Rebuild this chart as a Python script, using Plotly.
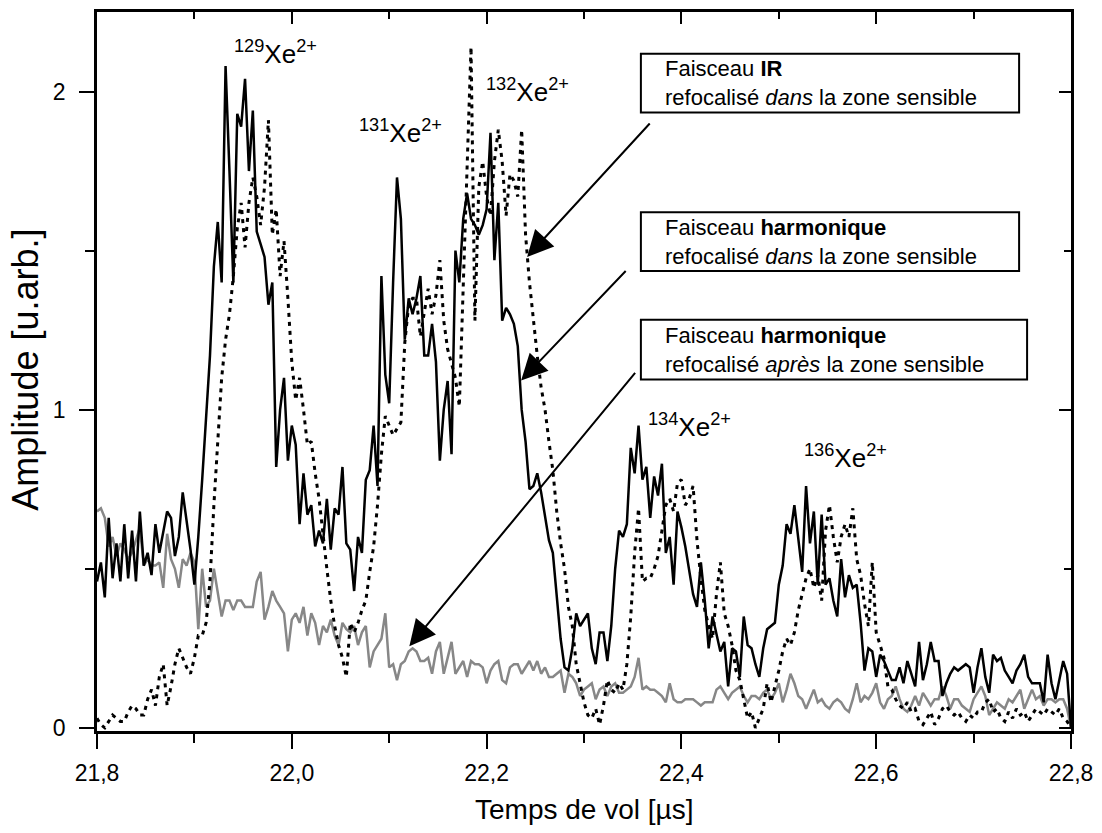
"""Time-of-flight spectrum of Xe2+ isotopes, three focusing conditions."""

import plotly.graph_objects as go

# sampling of the three traces (µs)
T_START = 21.8
T_STEP = 0.004

# Faisceau harmonique refocalisé dans la zone sensible (solid black)
harm_dans = [
    0.46, 0.52, 0.41, 0.66, 0.47, 0.58, 0.46, 0.64, 0.47, 0.62, 0.46, 0.68, 0.51, 0.55, 0.48, 0.64, 0.55, 0.62, 0.68, 0.66, 0.54, 0.60, 0.74, 0.65, 0.56,
    0.45, 0.60, 0.78, 0.98, 1.17, 1.45, 1.59, 1.40, 2.08, 1.75, 1.40, 1.93, 1.89, 2.04, 1.75, 1.94, 1.56, 1.52, 1.48, 1.33, 1.40, 0.82, 1.00, 1.10, 0.84,
    0.95, 0.89, 0.64, 0.80, 0.67, 0.70, 0.57, 0.62, 0.58, 0.72, 0.56, 0.69, 0.67, 0.82, 0.58, 0.56, 0.43, 0.60, 0.55, 0.78, 0.81, 0.95, 0.76, 1.42, 1.11,
    1.02, 1.40, 1.73, 1.60, 1.22, 1.35, 1.30, 1.35, 1.42, 1.17, 1.17, 1.27, 1.15, 0.84, 1.00, 1.09, 0.86, 1.50, 1.40, 1.60, 1.68, 1.60, 1.58, 1.55, 1.58,
    1.63, 1.87, 1.47, 1.65, 1.28, 1.32, 1.30, 1.27, 1.20, 1.00, 0.90, 0.75, 0.76, 0.80, 0.74, 0.66, 0.59, 0.55, 0.42, 0.28, 0.19, 0.18, 0.25, 0.36, 0.32,
    0.34, 0.36, 0.25, 0.20, 0.30, 0.30, 0.21, 0.32, 0.50, 0.62, 0.60, 0.64, 0.88, 0.80, 0.95, 0.78, 0.82, 0.66, 0.79, 0.73, 0.83, 0.55, 0.60, 0.45, 0.68,
    0.63, 0.57, 0.50, 0.42, 0.38, 0.52, 0.40, 0.25, 0.35, 0.30, 0.24, 0.27, 0.13, 0.25, 0.24, 0.16, 0.35, 0.26, 0.25, 0.20, 0.16, 0.25, 0.31, 0.32, 0.33,
    0.45, 0.51, 0.64, 0.61, 0.70, 0.60, 0.49, 0.76, 0.58, 0.68, 0.45, 0.67, 0.45, 0.47, 0.40, 0.35, 0.53, 0.41, 0.48, 0.44, 0.45, 0.33, 0.18, 0.25, 0.24,
    0.16, 0.23, 0.21, 0.18, 0.15, 0.15, 0.19, 0.14, 0.21, 0.17, 0.13, 0.27, 0.15, 0.20, 0.27, 0.21, 0.21, 0.10, 0.14, 0.17, 0.19, 0.18, 0.19, 0.20, 0.19,
    0.11, 0.19, 0.25, 0.16, 0.11, 0.23, 0.21, 0.22, 0.18, 0.16, 0.14, 0.18, 0.20, 0.23, 0.16, 0.14, 0.14, 0.14, 0.08, 0.23, 0.14, 0.09, 0.15, 0.21, 0.17,
    0.0,
]

# Faisceau IR refocalisé dans la zone sensible (dotted black)
ir_dans = [
    0.03, 0.01, 0.00, 0.02, 0.04, 0.03, 0.02, 0.02, 0.05, 0.07, 0.06, 0.04, 0.04, 0.09, 0.12, 0.07, 0.16, 0.20, 0.07, 0.13, 0.20, 0.25, 0.22, 0.19, 0.17,
    0.22, 0.29, 0.29, 0.33, 0.46, 0.70, 0.91, 1.10, 1.22, 1.30, 1.42, 1.57, 1.65, 1.51, 1.65, 1.73, 1.67, 1.58, 1.70, 1.91, 1.55, 1.63, 1.42, 1.53, 1.35,
    1.15, 1.03, 1.10, 1.00, 0.89, 0.90, 0.80, 0.72, 0.60, 0.50, 0.40, 0.32, 0.26, 0.22, 0.16, 0.33, 0.30, 0.33, 0.37, 0.40, 0.49, 0.57, 0.70, 0.86, 0.98,
    0.95, 0.92, 0.94, 0.96, 1.21, 1.33, 1.35, 1.35, 1.23, 1.30, 1.38, 1.30, 1.36, 1.47, 1.28, 1.19, 1.14, 1.10, 1.01, 1.40, 1.80, 2.14, 1.28, 1.70, 1.78,
    1.67, 1.61, 1.78, 1.88, 1.78, 1.61, 1.74, 1.72, 1.67, 1.88, 1.55, 1.40, 1.28, 1.17, 1.07, 1.00, 0.90, 0.81, 0.68, 0.58, 0.50, 0.38, 0.32, 0.20, 0.14,
    0.08, 0.04, 0.03, 0.06, 0.01, 0.07, 0.15, 0.12, 0.11, 0.14, 0.12, 0.20, 0.35, 0.55, 0.69, 0.46, 0.47, 0.47, 0.50, 0.54, 0.62, 0.70, 0.72, 0.68, 0.77,
    0.78, 0.70, 0.72, 0.76, 0.59, 0.47, 0.37, 0.32, 0.28, 0.42, 0.52, 0.36, 0.32, 0.26, 0.18, 0.15, 0.09, 0.03, 0.05, 0.00, 0.03, 0.06, 0.14, 0.08, 0.13,
    0.18, 0.24, 0.28, 0.26, 0.30, 0.37, 0.42, 0.47, 0.50, 0.44, 0.48, 0.40, 0.62, 0.70, 0.60, 0.52, 0.60, 0.64, 0.60, 0.69, 0.53, 0.48, 0.39, 0.32, 0.52,
    0.30, 0.26, 0.22, 0.13, 0.12, 0.09, 0.07, 0.06, 0.08, 0.05, 0.06, 0.02, 0.01, 0.03, 0.05, 0.01, 0.03, 0.06, 0.07, 0.05, 0.04, 0.05, 0.03, 0.02, 0.04,
    0.03, 0.05, 0.05, 0.08, 0.09, 0.05, 0.06, 0.03, 0.02, 0.05, 0.03, 0.06, 0.04, 0.05, 0.02, 0.04, 0.06, 0.05, 0.04, 0.06, 0.05, 0.04, 0.06, 0.03, 0.02,
    0.0,
]

# Faisceau harmonique refocalisé après la zone sensible (grey)
harm_apres = [
    0.68, 0.69, 0.66, 0.57, 0.60, 0.54, 0.58, 0.56, 0.53, 0.55, 0.59, 0.63, 0.51, 0.53, 0.51, 0.51, 0.52, 0.44, 0.61, 0.53, 0.50, 0.44, 0.53, 0.51, 0.55,
    0.52, 0.31, 0.50, 0.38, 0.40, 0.50, 0.42, 0.35, 0.40, 0.40, 0.37, 0.40, 0.40, 0.38, 0.38, 0.38, 0.46, 0.49, 0.34, 0.38, 0.43, 0.40, 0.38, 0.36, 0.24,
    0.34, 0.36, 0.33, 0.38, 0.29, 0.36, 0.33, 0.26, 0.32, 0.30, 0.34, 0.29, 0.26, 0.33, 0.31, 0.30, 0.32, 0.26, 0.30, 0.32, 0.19, 0.24, 0.26, 0.28, 0.36,
    0.19, 0.20, 0.15, 0.20, 0.21, 0.24, 0.25, 0.24, 0.21, 0.21, 0.22, 0.17, 0.24, 0.27, 0.17, 0.22, 0.27, 0.17, 0.19, 0.21, 0.16, 0.21, 0.20, 0.20, 0.19,
    0.14, 0.18, 0.20, 0.21, 0.15, 0.14, 0.19, 0.20, 0.20, 0.17, 0.19, 0.21, 0.18, 0.21, 0.17, 0.19, 0.16, 0.16, 0.17, 0.18, 0.11, 0.17, 0.16, 0.14, 0.10,
    0.12, 0.13, 0.14, 0.09, 0.12, 0.13, 0.10, 0.13, 0.14, 0.11, 0.11, 0.12, 0.13, 0.16, 0.22, 0.12, 0.13, 0.12, 0.12, 0.11, 0.10, 0.08, 0.14, 0.09, 0.08,
    0.08, 0.09, 0.09, 0.09, 0.08, 0.07, 0.08, 0.08, 0.08, 0.12, 0.13, 0.11, 0.09, 0.11, 0.12, 0.13, 0.10, 0.08, 0.10, 0.10, 0.09, 0.11, 0.12, 0.09, 0.11,
    0.14, 0.08, 0.12, 0.17, 0.14, 0.10, 0.09, 0.06, 0.09, 0.12, 0.08, 0.09, 0.07, 0.06, 0.08, 0.09, 0.08, 0.06, 0.05, 0.09, 0.14, 0.08, 0.10, 0.09, 0.11,
    0.14, 0.08, 0.06, 0.09, 0.10, 0.13, 0.09, 0.06, 0.05, 0.07, 0.10, 0.07, 0.11, 0.09, 0.07, 0.09, 0.09, 0.13, 0.10, 0.06, 0.09, 0.09, 0.07, 0.06, 0.05,
    0.09, 0.11, 0.13, 0.10, 0.04, 0.06, 0.08, 0.07, 0.06, 0.09, 0.08, 0.10, 0.12, 0.06, 0.09, 0.12, 0.09, 0.10, 0.07, 0.09, 0.09, 0.08, 0.09, 0.09, 0.06,
    0.0,
]

time_us = [round(T_START + T_STEP * i, 3) for i in range(len(harm_dans))]

# isotope labels: (mass, x px, y px) of the label centre
ISOTOPES = [("129", 276, 50), ("131", 401, 129), ("132", 528, 88),
            ("134", 691, 424), ("136", 847, 455)]

FONT = "Liberation Sans, Arial, sans-serif"

# plot area in page pixels
W, H = 1102, 833
L, R, T, B = 97, 1073, 9, 731


def px_x(px):
    return (px - L) / (R - L)


def px_y(py):
    return (B - py) / (B - T)


fig = go.Figure()
fig.add_trace(go.Scatter(x=time_us, y=harm_apres, mode="lines",
                         line=dict(color="#878787", width=2.5), name="harmonique après"))
fig.add_trace(go.Scatter(x=time_us, y=ir_dans, mode="lines",
                         line=dict(color="black", width=3, dash="4px,5px"), name="IR dans"))
fig.add_trace(go.Scatter(x=time_us, y=harm_dans, mode="lines", xaxis="x2", yaxis="y2",
                         line=dict(color="black", width=2.5), name="harmonique dans"))

xr = [21.8, 22.8]
yr = [-0.01, 2.25]
tickfont = dict(family=FONT, size=23, color="black")

fig.update_layout(
    width=W, height=H,
    margin=dict(l=L, r=W - R, t=T, b=H - B),
    paper_bgcolor="white", plot_bgcolor="white",
    showlegend=False,
    separators=", ",
    font=dict(family=FONT, color="black"),
    xaxis=dict(range=xr, tick0=21.8, dtick=0.2, tickformat=".1f",
               ticks="outside", ticklen=15, tickwidth=2, tickcolor="black",
               minor=dict(ticks="outside", ticklen=9, tickwidth=2, dtick=0.1, tick0=21.8, tickcolor="black"),
               showline=True, linewidth=2.5, linecolor="black", mirror=True,
               showgrid=False, zeroline=False, tickfont=tickfont, ticklabelstandoff=5),
    yaxis=dict(range=yr, tick0=0, dtick=1, tickformat="d",
               ticks="outside", ticklen=15, tickwidth=2, tickcolor="black",
               minor=dict(ticks="outside", ticklen=9, tickwidth=2, dtick=0.5, tick0=0, tickcolor="black"),
               showline=True, linewidth=2.5, linecolor="black", mirror=True,
               showgrid=False, zeroline=False, tickfont=tickfont, ticklabelstandoff=9),
    xaxis2=dict(range=xr, overlaying="x", side="top", matches="x",
                tick0=21.8, dtick=0.2, ticks="inside", ticklen=12, tickwidth=2, tickcolor="black",
                minor=dict(ticks="inside", ticklen=7, tickwidth=2, dtick=0.1, tick0=21.8, tickcolor="black"),
                showticklabels=False, showgrid=False, zeroline=False, showline=False),
    yaxis2=dict(range=yr, overlaying="y", side="right", matches="y",
                tick0=0, dtick=1, ticks="inside", ticklen=12, tickwidth=2, tickcolor="black",
                minor=dict(ticks="inside", ticklen=7, tickwidth=2, dtick=0.5, tick0=0, tickcolor="black"),
                showticklabels=False, showgrid=False, zeroline=False, showline=False),
)

annotations = [
    dict(text="Temps de vol [µs]", x=0.5, y=px_y(810), xref="paper", yref="paper",
         showarrow=False, font=dict(size=28), xanchor="center", yanchor="middle"),
    dict(text="Amplitude [u.arb.]", x=px_x(25), y=px_y(368), xref="paper", yref="paper",
         showarrow=False, font=dict(size=36), textangle=-90, xanchor="center", yanchor="middle"),
]

for mass, cx, cy in ISOTOPES:
    annotations.append(dict(text=f"<sup>{mass}</sup>Xe<sup>2+</sup>", x=px_x(cx), y=px_y(cy),
                            xref="paper", yref="paper", showarrow=False,
                            font=dict(size=26), xanchor="center", yanchor="middle"))

# legend boxes: (text, box left, right, top, bottom)
boxes = [
    ("Faisceau <b>IR</b><br>refocalisé <i>dans</i> la zone sensible", 642, 1021, 51, 110),
    ("Faisceau <b>harmonique</b><br>refocalisé <i>dans</i> la zone sensible", 642, 1021, 210, 269),
    ("Faisceau <b>harmonique</b><br>refocalisé <i>après</i> la zone sensible", 642, 1029, 318, 378),
]
shapes = []
for text, x0, x1, y0, y1 in boxes:
    shapes.append(dict(type="rect", xref="paper", yref="paper",
                       x0=px_x(x0), x1=px_x(x1), y0=px_y(y1), y1=px_y(y0),
                       line=dict(color="black", width=2), fillcolor="white", layer="above"))
    annotations.append(dict(text=text, x=px_x(x0 + 22), y=px_y((y0 + y1) / 2),
                            xref="paper", yref="paper", showarrow=False, align="left",
                            font=dict(size=22), xanchor="left", yanchor="middle"))

# arrows: head (px), tail (px)
arrows = [((528, 255), (652, 120)), ((522, 379), (628, 268)), ((410, 646), (637, 371))]
for (hx, hy), (tx, ty) in arrows:
    annotations.append(dict(text="", x=px_x(hx), y=px_y(hy), xref="paper", yref="paper",
                            ax=tx - hx, ay=ty - hy, showarrow=True, arrowhead=2,
                            arrowsize=2.6, arrowwidth=2, arrowcolor="black"))

fig.update_layout(annotations=annotations, shapes=shapes)

# the page body has a default 8px margin: drop it so the figure sits at (0, 0)
fig.write_html("out.html", config={"displayModeBar": False},
               post_script="document.body.style.margin='0';document.body.style.overflow='hidden';")
